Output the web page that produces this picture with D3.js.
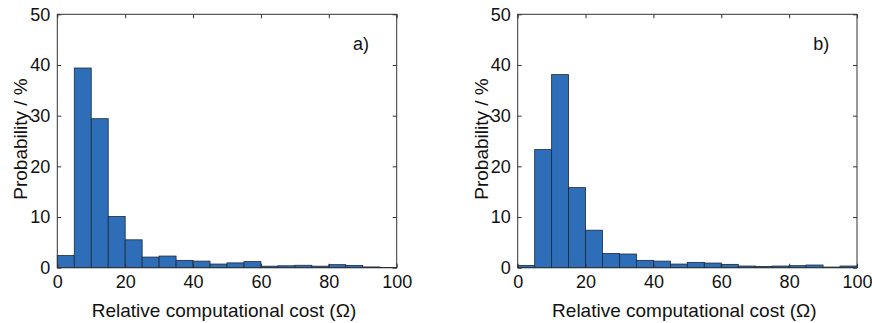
<!DOCTYPE html>
<meta charset="utf-8">
<script src="https://d3js.org/d3.v7.min.js"></script>
<style>
  body { margin: 0; background: #fff; }
  text { font-family: "Liberation Sans", Arial, sans-serif; fill: #111; }
</style>
<div id="chart"></div>
<script>
// bin edges (relative cost), every 5 units from 0 to 100
var binEdges = [0, 5, 10, 15, 20, 25, 30, 35, 40, 45, 50, 55, 60, 65, 70, 75, 80, 85, 90, 95, 100];

// probability (%) per bin
var probA = [2.4, 39.4, 29.4, 10.1, 5.5, 2.1, 2.3, 1.45, 1.3, 0.72, 0.95, 1.2, 0.3, 0.38, 0.48, 0.3, 0.6, 0.46, 0.15, 0.05];
var probB = [0.46, 23.3, 38.1, 15.8, 7.4, 2.8, 2.7, 1.45, 1.3, 0.72, 1.05, 0.92, 0.66, 0.33, 0.26, 0.33, 0.4, 0.53, 0.13, 0.33];

var xTicks = [0, 20, 40, 60, 80, 100];
var yTicks = [0, 10, 20, 30, 40, 50];

var W = 872, H = 323;
var svg = d3.select("#chart").append("svg")
    .attr("width", W)
    .attr("height", H);

var panels = [
  {values: probA, label: "a)", left: 57.3, right: 396.7},
  {values: probB, label: "b)", left: 517.7, right: 857}
];

var plotTop = 14.3, plotBottom = 267.7;

panels.forEach(function(p) {
  var x = d3.scaleLinear().domain([0, 100]).range([p.left, p.right]);
  var y = d3.scaleLinear().domain([0, 50]).range([plotBottom, plotTop]);

  var g = svg.append("g");

  var bins = p.values.map(function(v, i) { return {x0: binEdges[i], x1: binEdges[i + 1], v: v}; });

  // bars
  g.selectAll("rect.bar")
    .data(bins)
    .enter()
    .append("rect")
      .attr("class", "bar")
      .attr("x", function(d) { return x(d.x0); })
      .attr("width", function(d) { return x(d.x1) - x(d.x0); })
      .attr("y", function(d) { return y(d.v); })
      .attr("height", function(d) { return plotBottom - y(d.v); })
      .attr("fill", "#2e6eb8")
      .attr("stroke", "#1a2a3a")
      .attr("stroke-width", 0.8);

  // box
  g.append("rect")
    .attr("x", p.left)
    .attr("y", plotTop)
    .attr("width", p.right - p.left)
    .attr("height", plotBottom - plotTop)
    .attr("fill", "none")
    .attr("stroke", "#333")
    .attr("stroke-width", 1);

  // axes with inward ticks (MATLAB style)
  var tickLen = 4;
  g.append("g")
    .attr("transform", "translate(0," + plotBottom + ")")
    .call(d3.axisBottom(x).tickValues(xTicks).tickSizeInner(-tickLen).tickSizeOuter(0).tickPadding(8))
    .call(function(s) {
      s.select(".domain").remove();
      s.selectAll("line").attr("stroke", "#333");
      s.selectAll("text").style("font-size", "18px").attr("fill", "#111");
    });
  g.append("g")
    .attr("transform", "translate(0," + plotTop + ")")
    .call(d3.axisTop(x).tickValues(xTicks).tickSizeInner(-tickLen).tickSizeOuter(0).tickFormat(""))
    .call(function(s) { s.select(".domain").remove(); s.selectAll("line").attr("stroke", "#333"); });
  g.append("g")
    .attr("transform", "translate(" + p.left + ",0)")
    .call(d3.axisLeft(y).tickValues(yTicks).tickSizeInner(-tickLen).tickSizeOuter(0).tickPadding(7))
    .call(function(s) {
      s.select(".domain").remove();
      s.selectAll("line").attr("stroke", "#333");
      s.selectAll("text").style("font-size", "18px").attr("fill", "#111");
    });
  g.append("g")
    .attr("transform", "translate(" + p.right + ",0)")
    .call(d3.axisRight(y).tickValues(yTicks).tickSizeInner(-tickLen).tickSizeOuter(0).tickFormat(""))
    .call(function(s) { s.select(".domain").remove(); s.selectAll("line").attr("stroke", "#333"); });

  // axis labels
  g.append("text")
    .attr("x", (p.left + p.right) / 2 - 3)
    .attr("y", 317)
    .attr("text-anchor", "middle")
    .style("font-size", "19px")
    .text("Relative computational cost (\u03A9)");

  g.append("text")
    .attr("transform", "translate(" + (p.left - 30) + "," + ((plotTop + plotBottom) / 2 - 2) + ") rotate(-90)")
    .attr("text-anchor", "middle")
    .style("font-size", "19px")
    .text("Probability / %");

  // panel tag
  g.append("text")
    .attr("x", x(89.5))
    .attr("y", 50)
    .attr("text-anchor", "middle")
    .style("font-size", "18px")
    .text(p.label);
});
</script>
